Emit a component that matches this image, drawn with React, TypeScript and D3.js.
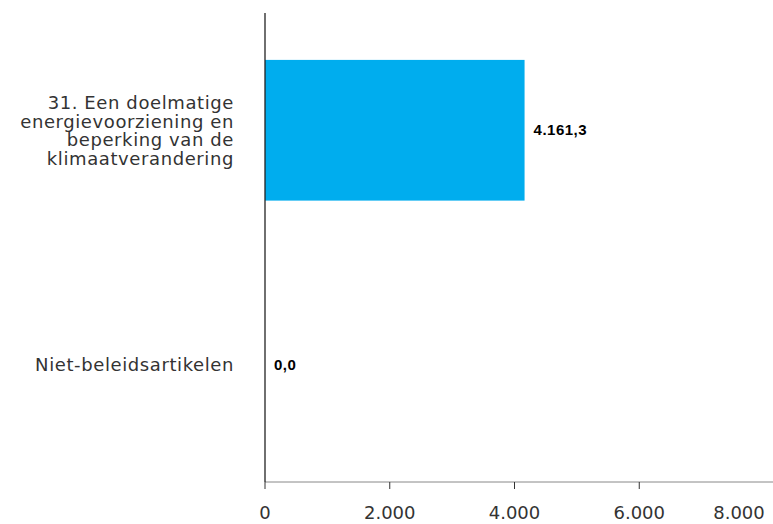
import React, { useEffect, useRef } from 'react';
import * as d3 from 'd3';

const categories: string[][] = [
  ['31. Een doelmatige', 'energievoorziening en', 'beperking van de', 'klimaatverandering'],
  ['Niet-beleidsartikelen'],
];
const values: number[] = [4161.3, 0.0];
const valueLabels: string[] = ['4.161,3', '0,0'];
const tickValues: number[] = [0, 2000, 4000, 6000, 8000];
const tickLabels: string[] = ['0', '2.000', '4.000', '6.000', '8.000'];

const width = 773;
const height = 524;
const font = '"DejaVu Sans", sans-serif';
const boldFont = '"Liberation Sans", Arial, sans-serif';

const App: React.FC = () => {
  const ref = useRef<SVGSVGElement>(null);

  useEffect(() => {
    const svg = d3.select(ref.current);
    svg.selectAll('*').remove();

    const keys = categories.map((c, i) => String(i));
    const x = d3.scaleLinear().domain([0, 8000]).range([265, 764]);
    const y = d3.scaleBand().domain(keys).range([13, 482]).paddingInner(0.4).paddingOuter(0.2);

    // bars
    svg
      .selectAll('rect.bar')
      .data(values)
      .enter()
      .append('rect')
      .attr('class', 'bar')
      .attr('x', x(0))
      .attr('y', (d, i) => y(keys[i]) as number)
      .attr('width', (d) => x(d) - x(0))
      .attr('height', y.bandwidth())
      .attr('fill', '#00adee');

    // value labels
    svg
      .selectAll('text.val')
      .data(values)
      .enter()
      .append('text')
      .attr('class', 'val')
      .attr('x', (d) => x(d) + 9)
      .attr('y', (d, i) => (y(keys[i]) as number) + y.bandwidth() / 2 + 5)
      .style('font-family', boldFont)
      .style('font-size', '15px')
      .style('font-weight', '700')
      .style('letter-spacing', '0.5px')
      .style('fill', '#000')
      .text((d, i) => valueLabels[i]);

    // category labels
    const lineH = 18.5;
    categories.forEach((lines, i) => {
      const cy = (y(keys[i]) as number) + y.bandwidth() / 2;
      const t = svg
        .append('text')
        .attr('text-anchor', 'end')
        .style('font-family', font)
        .style('font-size', '18px')
        .style('letter-spacing', '0.6px')
        .style('fill', '#333');
      lines.forEach((line, j) => {
        t.append('tspan')
          .attr('x', 234)
          .attr('y', cy + (j - (lines.length - 1) / 2) * lineH + 6.5)
          .text(line);
      });
    });

    // x axis
    const axisY = 482;
    svg
      .append('line')
      .attr('x1', x(0))
      .attr('x2', width)
      .attr('y1', axisY)
      .attr('y2', axisY)
      .attr('stroke', '#888')
      .attr('stroke-width', 1);

    svg
      .selectAll('line.tick')
      .data(tickValues.filter((v) => x(v) < width - 10))
      .enter()
      .append('line')
      .attr('class', 'tick')
      .attr('x1', (d) => x(d))
      .attr('x2', (d) => x(d))
      .attr('y1', axisY)
      .attr('y2', axisY + 7)
      .attr('stroke', '#333')
      .attr('stroke-width', 1);

    svg
      .selectAll('text.tick')
      .data(tickValues)
      .enter()
      .append('text')
      .attr('class', 'tick')
      .attr('x', (d) => Math.min(x(d), width - 34))
      .attr('y', 519)
      .attr('text-anchor', 'middle')
      .style('font-family', font)
      .style('font-size', '18px')
      .style('fill', '#333')
      .text((d, i) => tickLabels[i]);

    // y axis
    svg
      .append('line')
      .attr('x1', x(0))
      .attr('x2', x(0))
      .attr('y1', 13)
      .attr('y2', axisY)
      .attr('stroke', '#222')
      .attr('stroke-width', 1.3);
  });

  return (
    <svg
      ref={ref}
      width={width}
      height={height}
      style={{ position: 'absolute', left: 0, top: 0, background: '#fff' }}
    />
  );
};

export default App;
